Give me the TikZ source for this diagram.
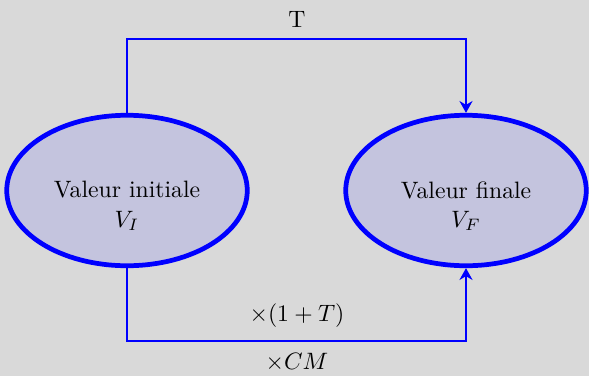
\documentclass[tikz,border=0pt]{standalone}
\usetikzlibrary{shapes.geometric,arrows.meta}
\definecolor{bgc}{RGB}{217,217,217}
\definecolor{fillc}{RGB}{196,196,222}
\begin{document}
\begin{tikzpicture}[x=0.422pt,y=-0.422pt,
  bubble/.style={ellipse,draw=blue,fill=fillc,line width=2pt,inner sep=0pt,minimum width=101.5pt,minimum height=63.5pt},
  conn/.style={draw=blue,line width=0.8pt},
  tip/.style={-{Stealth[length=5pt,width=5.5pt]}},
  lbl/.style={inner sep=0pt,font=\normalsize}]
\fill[bgc] (0,0) rectangle (589,376);
\useasboundingbox (0,0) rectangle (589,376);
\node[bubble] (L) at (127,190.5) {};
\node[bubble] (R) at (466,190.5) {};
\node[lbl] (Lt) at (127,190) {Valeur initiale};
\node[lbl] (Lv) at (127,221) {$V_I$};
\node[lbl] (Rt) at (466,190) {Valeur finale};
\node[lbl] (Rv) at (466,221) {$V_F$};
\coordinate (topc) at (297,39);
\coordinate (botc) at (297,341);
\draw[conn,tip] (L.north) |- (topc) -| (R.north);
\draw[conn,tip] (L.south) |- (botc) -| (R.south);
\node[lbl] (lt) at (297,19) {T};
\node[lbl] (lm) at (297,316) {$\times(1+T)$};
\node[lbl] (lc) at (297,362) {$\times CM$};
\end{tikzpicture}
\end{document}
